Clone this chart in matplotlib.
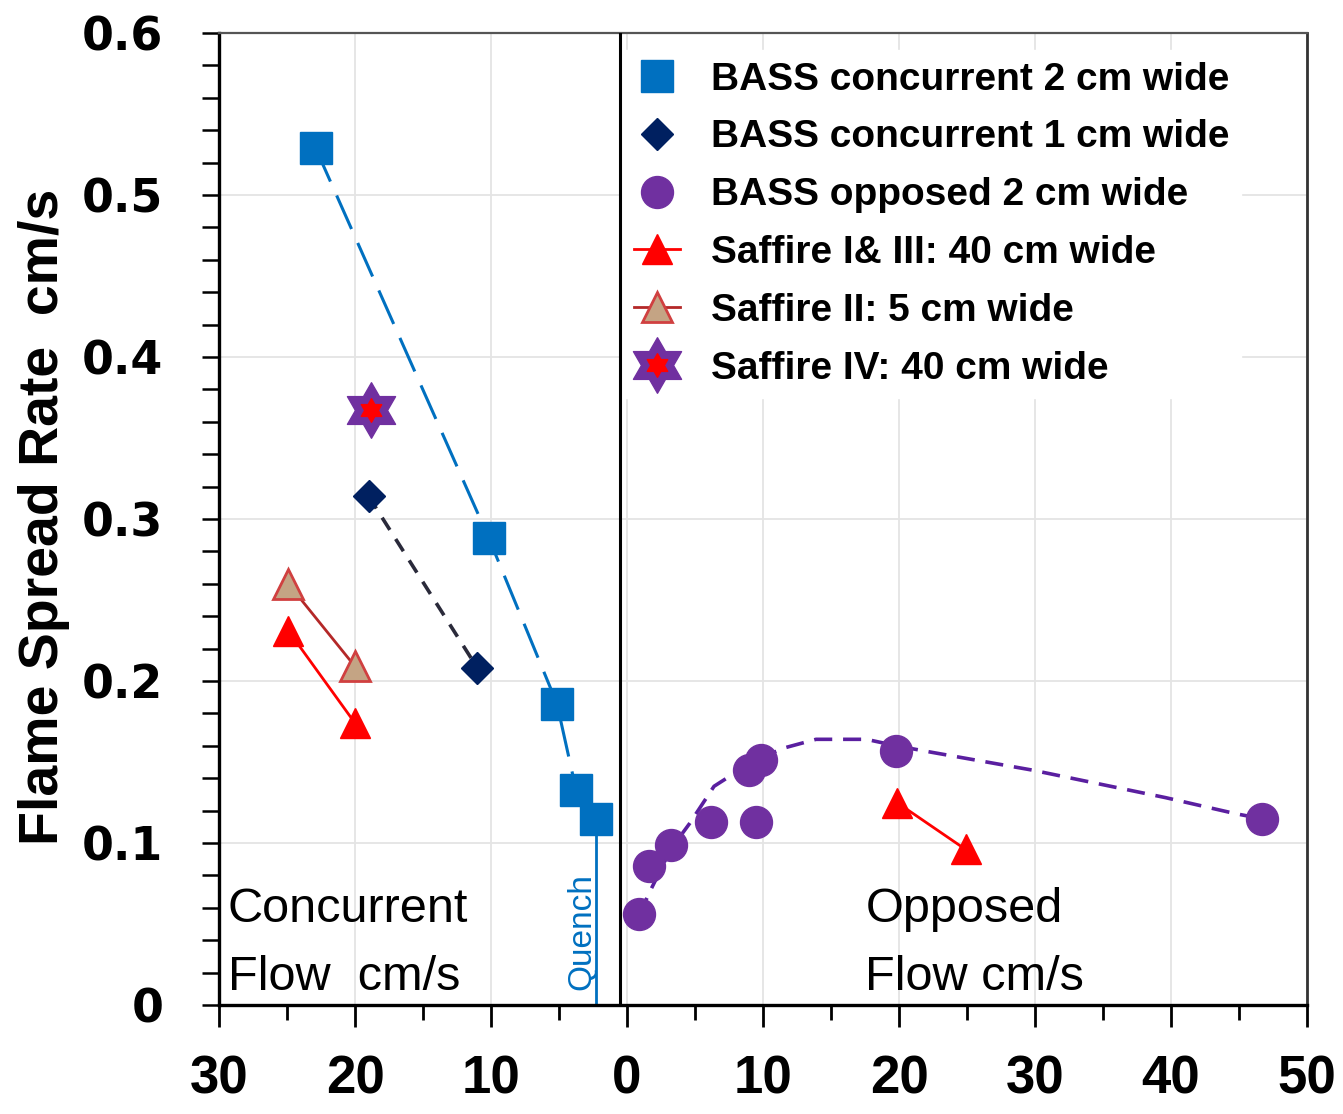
import numpy as np
import matplotlib
matplotlib.use("Agg")
import matplotlib.pyplot as plt
from matplotlib.path import Path
from matplotlib.legend_handler import HandlerTuple
from matplotlib.ticker import MultipleLocator, FuncFormatter

# concurrent flow is drawn on the negative side so it runs leftwards from 0
bass_conc2_x = [-22.9, -10.15, -5.15, -3.75, -2.3]
bass_conc2_y = [0.529, 0.288, 0.186, 0.133, 0.115]

bass_conc1_x = [-19.0, -11.0]
bass_conc1_y = [0.314, 0.208]

bass_opp_x = [0.9, 1.6, 3.2, 6.2, 9.0, 9.85, 9.5, 19.8, 46.7]
bass_opp_y = [0.056, 0.086, 0.099, 0.113, 0.145, 0.151, 0.113, 0.157, 0.115]

# hand-drawn trend through the opposed-flow points
opp_trend_x = [0.9, 1.8, 3.2, 4.6, 6.4, 9.0, 10.5, 11.7, 13.9, 17.6, 19.8, 22.4, 29.8, 39.6, 44.8, 46.7]
opp_trend_y = [0.056, 0.072, 0.096, 0.112, 0.135, 0.149, 0.155, 0.159, 0.164, 0.164, 0.160, 0.156, 0.145, 0.128, 0.118, 0.115]

saffire13_conc_x = [-24.9, -20.0]
saffire13_conc_y = [0.231, 0.174]
saffire13_opp_x = [19.85, 24.9]
saffire13_opp_y = [0.125, 0.096]

saffire2_x = [-24.9, -20.0]
saffire2_y = [0.260, 0.209]

saffire4_x = [-18.8]
saffire4_y = [0.367]

x_ticks = [-30, -20, -10, 0, 10, 20, 30, 40, 50]
x_tick_labels = ["30", "20", "10", "0", "10", "20", "30", "40", "50"]

legend_labels = [
    "BASS concurrent 2 cm wide",
    "BASS concurrent 1 cm wide",
    "BASS opposed 2 cm wide",
    "Saffire I& III: 40 cm wide",
    "Saffire II: 5 cm wide",
    "Saffire IV: 40 cm wide",
]

BLUE = "#0070c0"
NAVY = "#002060"
PURPLE = "#7030a0"
RED = "#ff0000"
TAN = "#c4a484"
DARKRED = "#b42828"

# six-pointed star marker (two overlapping triangles)
ang = np.deg2rad(90 + 30 * np.arange(12))
rad = np.where(np.arange(12) % 2 == 0, 1.0, 1 / np.sqrt(3))
star_verts = np.column_stack([rad * np.cos(ang), rad * np.sin(ang)])
star_verts = np.vstack([star_verts, star_verts[:1]])
star_marker = Path(star_verts, closed=True)

fig = plt.figure(figsize=(13.43, 11.14), dpi=100)
ax = fig.add_axes([219 / 1343, 109 / 1114, 1088 / 1343, 972 / 1114])

ax.set_xlim(-30, 50)
ax.set_ylim(0, 0.6)
ax.grid(True, which="major", color="#e4e4e4", lw=1.3, zorder=0)
ax.set_axisbelow(True)

# divider between concurrent and opposed sides
ax.axvline(-0.5, color="black", lw=2.2, zorder=6)

# trend lines
ax.plot(bass_conc2_x, bass_conc2_y, color=BLUE, lw=2.2, ls=(0, (12, 5)), zorder=2)
ax.plot([bass_conc2_x[-1], bass_conc2_x[-1]], [bass_conc2_y[-1], 0], color=BLUE, lw=2, zorder=2)
ax.plot(bass_conc1_x, bass_conc1_y, color="#2a2a3a", lw=2.6, ls=(0, (4, 3)), zorder=2)
ax.plot(opp_trend_x, opp_trend_y, color="#5a1fa0", lw=2.6, ls=(0, (5, 3)), zorder=2)

h_sq, = ax.plot(bass_conc2_x, bass_conc2_y, "s", ms=23, color=BLUE, mec=BLUE, ls="none", zorder=4)
h_dia, = ax.plot(bass_conc1_x, bass_conc1_y, "D", ms=16, color=NAVY, mec=NAVY, ls="none", zorder=4)
h_circ, = ax.plot(bass_opp_x, bass_opp_y, "o", ms=23, color=PURPLE, mec=PURPLE, ls="none", zorder=4)

h_s13, = ax.plot(saffire13_conc_x, saffire13_conc_y, "-^", color=RED, lw=2, ms=22,
                 mfc=RED, mec=RED, zorder=4)
ax.plot(saffire13_opp_x, saffire13_opp_y, "-^", color=RED, lw=2, ms=22, mfc=RED, mec=RED, zorder=4)
h_s2, = ax.plot(saffire2_x, saffire2_y, "-^", color=DARKRED, lw=2, ms=22,
                mfc=TAN, mec="#d04040", mew=2, zorder=4)

h_star_o, = ax.plot(saffire4_x, saffire4_y, marker=star_marker, ms=40, color=PURPLE, ls="none", zorder=5)
h_star_i, = ax.plot(saffire4_x, saffire4_y, marker=star_marker, ms=17, color=RED, ls="none", zorder=5)

# axes styling
for side in ["left", "bottom"]:
    ax.spines[side].set_color("black")
    ax.spines[side].set_linewidth(2.4)
ax.spines["top"].set_color("#555555")
ax.spines["top"].set_linewidth(1.6)
ax.spines["right"].set_color("#333333")
ax.spines["right"].set_linewidth(2)

ax.set_xticks(x_ticks)
ax.set_xticklabels(x_tick_labels)
ax.xaxis.set_minor_locator(MultipleLocator(5))
ax.yaxis.set_major_locator(MultipleLocator(0.1))
ax.yaxis.set_minor_locator(MultipleLocator(0.02))
ax.yaxis.set_major_formatter(FuncFormatter(lambda v, p: "0" if abs(v) < 1e-9 else f"{v:.1f}"))

ax.tick_params(axis="x", which="major", direction="out", length=16, width=2, pad=20)
ax.tick_params(axis="x", which="minor", direction="out", length=11, width=2)
ax.tick_params(axis="y", which="both", direction="out", length=12, width=1.8, pad=28)
for lbl in ax.get_xticklabels():
    lbl.set_fontfamily("Liberation Sans")
    lbl.set_fontweight("bold")
    lbl.set_fontsize(38)
for lbl in ax.get_yticklabels():
    lbl.set_fontfamily("DejaVu Sans")
    lbl.set_fontweight("bold")
    lbl.set_fontsize(33)

fig.text(58 / 1343, 1 - 517 / 1114, "Flame Spread Rate  cm/s", rotation=90, rotation_mode="anchor",
         ha="center", va="baseline", fontsize=40, fontweight="bold", family="Liberation Sans")

txt = dict(fontsize=35, family="Liberation Sans", color="black", transform=ax.transAxes, va="baseline")
ax.text(0.008, 0.0854, "Concurrent", **txt)
ax.text(0.008, 0.0154, "Flow  cm/s", **txt)
ax.text(0.594, 0.0854, "Opposed", **txt)
ax.text(0.594, 0.0154, "Flow cm/s", **txt)
ax.text(0.341, 0.076, "Quench", rotation=90, rotation_mode="anchor", ha="center", va="baseline",
        fontsize=24, family="Liberation Sans", color=BLUE, transform=ax.transAxes)

leg = ax.legend(
    [h_sq, h_dia, h_circ, h_s13, h_s2, (h_star_o, h_star_i)],
    legend_labels,
    handler_map={tuple: HandlerTuple(ndivide=1)},
    loc="upper left",
    bbox_to_anchor=(622 / 1343, 1 - 50 / 1114),
    bbox_transform=fig.transFigure,
    prop={"family": "Liberation Sans", "weight": "bold", "size": 28},
    handlelength=1.18,
    handletextpad=0.8,
    labelspacing=0.56,
    borderpad=0.3,
    borderaxespad=0,
    frameon=True,
    fancybox=False,
    framealpha=1,
    facecolor="white",
    edgecolor="white",
)
leg.set_zorder(5)

fig.savefig("out.png", dpi=100)
